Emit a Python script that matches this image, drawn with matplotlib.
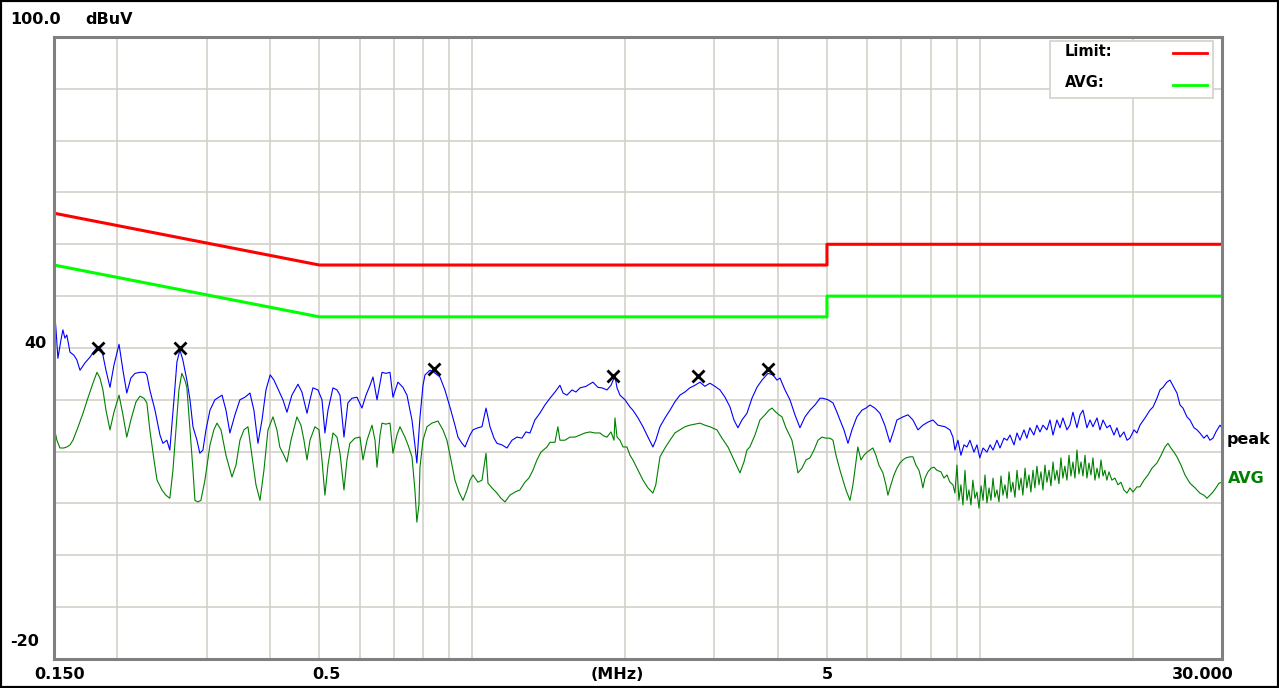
import matplotlib.pyplot as plt
from matplotlib.patches import Rectangle

# limit lines, dBuV
limit_freq = [0.15, 0.5, 5.0, 5.0, 30.0]
limit_qp = [66, 56, 56, 60, 60]
limit_avg = [56, 46, 46, 50, 50]

# peak detector sweep (MHz, dBuV)
peak_freq = [
    0.150, 0.1514, 0.1527, 0.1548, 0.1562, 0.1576, 0.159, 0.1613, 0.1642, 0.1664,
    0.1688, 0.1726, 0.1765, 0.1807, 0.1831, 0.1864, 0.1899, 0.1934, 0.1969, 0.2015,
    0.2051, 0.2087, 0.2126, 0.2166, 0.2216, 0.2266, 0.2286, 0.2317, 0.2372, 0.2426,
    0.2459, 0.2503, 0.2537, 0.2585, 0.2620, 0.2656, 0.2691, 0.2741, 0.2780, 0.2818,
    0.2869, 0.2907, 0.2948, 0.2989, 0.3044, 0.3113, 0.3215, 0.3273, 0.3332, 0.3409,
    0.3487, 0.3567, 0.3649, 0.3715, 0.3784, 0.3854, 0.3924, 0.400, 0.4069, 0.4178,
    0.4238, 0.4316, 0.4414, 0.4537, 0.4619, 0.4727, 0.4791, 0.4856, 0.4968, 0.5059,
    0.5127, 0.5199, 0.5318, 0.5416, 0.549, 0.559, 0.569, 0.5797, 0.5929, 0.6065,
    0.6178, 0.6292, 0.6376, 0.6494, 0.6642, 0.676, 0.6887, 0.6981, 0.714, 0.7304,
    0.7439, 0.761, 0.7712, 0.778, 0.7891, 0.800, 0.8073, 0.8255, 0.8407, 0.8639,
    0.8836, 0.9041, 0.9248, 0.9376, 0.9547, 0.968, 0.990, 1.0036, 1.0264, 1.0454,
    1.0648, 1.0842, 1.104, 1.1191, 1.1445, 1.1708, 1.1978, 1.2252, 1.2531, 1.2759,
    1.300, 1.329, 1.359, 1.391, 1.423, 1.456, 1.489, 1.510, 1.537, 1.573,
    1.601, 1.631, 1.676, 1.729, 1.769, 1.802, 1.843, 1.877, 1.911, 1.929,
    1.955, 2.000, 2.046, 2.073, 2.122, 2.170, 2.220, 2.270, 2.300, 2.344,
    2.398, 2.453, 2.508, 2.566, 2.625, 2.684, 2.747, 2.810, 2.874, 2.940,
    3.008, 3.077, 3.148, 3.221, 3.279, 3.338, 3.400, 3.478, 3.558, 3.639,
    3.723, 3.826, 3.913, 3.985, 4.040, 4.133, 4.227, 4.324, 4.423, 4.525,
    4.629, 4.735, 4.844, 4.909, 5.023, 5.138, 5.232, 5.304, 5.400, 5.500,
    5.600, 5.726, 5.860, 5.967, 6.077, 6.213, 6.357, 6.500, 6.651, 6.776,
    6.866, 7.057, 7.220, 7.385, 7.555, 7.726, 7.906, 8.087, 8.271, 8.539,
    8.734, 8.854, 8.934, 9.058, 9.180, 9.308, 9.436, 9.565, 9.739, 9.873,
    10.00, 10.15, 10.33, 10.48, 10.62, 10.81, 10.96, 11.16, 11.32, 11.47,
    11.68, 11.84, 12.00, 12.22, 12.38, 12.55, 12.78, 12.96, 13.14, 13.32,
    13.56, 13.75, 13.94, 14.19, 14.39, 14.58, 14.85, 15.05, 15.26, 15.54,
    15.76, 15.97, 16.26, 16.49, 16.71, 17.02, 17.25, 17.49, 17.80, 18.05,
    18.38, 18.63, 18.89, 19.23, 19.50, 19.76, 20.13, 20.40, 20.68, 21.16,
    21.64, 21.94, 22.34, 22.65, 22.96, 23.37, 23.70, 24.00, 24.46, 24.80,
    25.14, 25.60, 25.95, 26.43, 26.79, 27.14, 27.64, 28.03, 28.41, 28.80,
    29.19, 29.73, 30.00]
peak_level = [
    48.3, 43.5, 38.0, 41.5, 43.5, 41.9, 42.5, 39.2, 38.6, 37.7,
    35.7, 37.1, 38.2, 39.6, 40.2, 39.6, 35.7, 32.4, 36.7, 40.7,
    35.7, 31.3, 34.2, 35.1, 35.3, 35.3, 34.8, 31.9, 28.0, 23.2,
    21.6, 22.2, 20.3, 30.0, 37.3, 39.6, 37.7, 33.8, 30.0, 24.8,
    22.2, 19.7, 20.3, 24.2, 28.0, 30.0, 30.9, 28.0, 23.6, 27.1,
    30.0, 30.5, 31.3, 28.0, 21.6, 26.1, 31.9, 34.8, 33.8, 31.3,
    30.0, 27.6, 30.9, 33.0, 31.5, 27.4, 30.0, 32.3, 31.9, 30.0,
    23.6, 28.0, 32.3, 31.9, 30.9, 22.8, 29.4, 30.3, 30.5, 28.4,
    30.9, 32.8, 34.4, 30.0, 35.3, 35.1, 35.3, 30.5, 33.4, 32.4,
    30.9, 26.1, 21.3, 17.8, 26.6, 32.8, 34.8, 35.7, 35.3, 34.4,
    31.9, 28.6, 25.1, 22.8, 21.6, 20.9, 23.2, 24.2, 24.6, 24.8,
    28.4, 24.8, 22.6, 21.6, 21.3, 20.7, 22.2, 22.8, 22.6, 23.8,
    23.6, 26.1, 27.4, 29.0, 30.3, 31.5, 32.8, 31.3, 30.9, 31.9,
    31.5, 32.3, 32.6, 33.4, 32.4, 32.3, 31.9, 32.8, 34.6, 32.3,
    30.9, 30.0, 28.6, 28.0, 26.5, 24.8, 22.8, 20.9, 22.2, 24.8,
    26.5, 28.0, 29.6, 30.9, 31.5, 32.3, 32.8, 33.4, 32.6, 33.2,
    32.6, 31.9, 30.5, 28.6, 26.1, 24.6, 26.1, 27.4, 30.3, 32.4,
    33.8, 35.1, 34.8, 33.8, 34.2, 31.9, 30.0, 27.1, 24.6, 26.7,
    28.0, 29.0, 30.3, 30.3, 30.0, 29.4, 27.6, 26.1, 24.2, 21.6,
    24.2, 26.7, 28.0, 28.4, 29.0, 28.4, 27.4, 25.1, 21.8, 24.2,
    26.1, 26.7, 27.1, 26.1, 24.2, 25.1, 25.7, 26.1, 25.1, 24.8,
    24.2, 22.8, 20.3, 22.2, 19.3, 21.3, 20.9, 22.2, 19.9, 21.3,
    18.8, 20.7, 19.9, 21.3, 20.3, 22.2, 20.7, 22.6, 22.2, 23.2,
    21.3, 23.6, 22.2, 24.2, 22.6, 24.6, 23.2, 25.1, 23.8, 25.1,
    24.2, 26.1, 23.2, 26.1, 24.6, 26.5, 24.2, 25.1, 27.6, 24.6,
    27.1, 28.0, 24.6, 26.1, 24.8, 26.5, 24.2, 26.1, 24.6, 25.1,
    23.2, 24.6, 22.8, 23.8, 22.2, 22.6, 24.2, 23.6, 25.1, 26.5,
    28.0, 28.6, 30.3, 31.9, 32.4, 33.4, 33.8, 32.8, 31.3, 29.0,
    28.4, 26.7, 26.1, 24.6, 24.2, 23.6, 22.6, 23.2, 22.2, 22.6,
    23.8, 25.1, 24.6]

# average detector sweep (MHz, dBuV)
avg_freq = [
    0.150, 0.152, 0.1541, 0.1569, 0.159, 0.1613, 0.1635, 0.1671, 0.1711, 0.1749,
    0.179, 0.1823, 0.1848, 0.1873, 0.1899, 0.1934, 0.1969, 0.2015, 0.2051, 0.2087,
    0.2126, 0.2176, 0.2216, 0.2256, 0.2286, 0.2317, 0.2361, 0.2394, 0.2448, 0.2492,
    0.2537, 0.2573, 0.2608, 0.2644, 0.2679, 0.2716, 0.2741, 0.2780, 0.2818, 0.2843,
    0.2881, 0.2921, 0.2975, 0.3044, 0.3098, 0.3142, 0.3200, 0.3273, 0.3363, 0.3425,
    0.3487, 0.3551, 0.3616, 0.3682, 0.3750, 0.3819, 0.3888, 0.3960, 0.4051, 0.4124,
    0.4178, 0.4257, 0.4316, 0.4395, 0.4516, 0.4599, 0.4662, 0.4727, 0.4791, 0.4900,
    0.4991, 0.5059, 0.5127, 0.5199, 0.5318, 0.5416, 0.549, 0.559, 0.5666, 0.574,
    0.5876, 0.6011, 0.6093, 0.6206, 0.6348, 0.6435, 0.6494, 0.6583, 0.6642, 0.676,
    0.6887, 0.6981, 0.7108, 0.7207, 0.7371, 0.7473, 0.761, 0.7712, 0.778, 0.7854,
    0.7891, 0.800, 0.8146, 0.833, 0.8562, 0.8756, 0.8918, 0.9082, 0.9248, 0.9419,
    0.9591, 0.9766, 0.990, 1.0036, 1.0264, 1.0454, 1.0648, 1.0743, 1.094, 1.1191,
    1.1394, 1.1603, 1.1869, 1.2142, 1.2417, 1.2701, 1.2935, 1.3172, 1.3415, 1.366,
    1.4038, 1.423, 1.456, 1.475, 1.489, 1.523, 1.558, 1.594, 1.631, 1.668, 1.706,
    1.744, 1.785, 1.818, 1.843, 1.877, 1.903, 1.911, 1.929, 1.955, 1.982,
    2.018, 2.046, 2.073, 2.122, 2.170, 2.220, 2.270, 2.300, 2.323, 2.344,
    2.398, 2.453, 2.508, 2.566, 2.625, 2.684, 2.747, 2.810, 2.874, 2.940,
    3.035, 3.105, 3.191, 3.279, 3.369, 3.431, 3.478, 3.524, 3.607, 3.689,
    3.774, 3.843, 3.896, 3.967, 4.022, 4.077, 4.151, 4.265, 4.324, 4.383,
    4.463, 4.545, 4.629, 4.714, 4.800, 4.888, 4.977, 5.068, 5.138, 5.209,
    5.304, 5.376, 5.450, 5.550, 5.625, 5.675, 5.751, 5.833, 5.913, 5.995,
    6.077, 6.158, 6.243, 6.328, 6.444, 6.533, 6.592, 6.682, 6.776, 6.866,
    6.962, 7.057, 7.153, 7.285, 7.385, 7.486, 7.589, 7.658, 7.726, 7.799,
    7.906, 8.015, 8.124, 8.234, 8.384, 8.500, 8.616, 8.734, 8.854, 8.934,
    9.016, 9.098, 9.180, 9.266, 9.350, 9.436, 9.521, 9.608, 9.691, 9.784,
    9.873, 9.964, 10.06, 10.15, 10.24, 10.33, 10.43, 10.52, 10.62, 10.71,
    10.81, 10.91, 11.01, 11.11, 11.21, 11.32, 11.42, 11.52, 11.62, 11.73,
    11.84, 11.95, 12.06, 12.16, 12.28, 12.38, 12.50, 12.61, 12.73, 12.84,
    12.96, 13.08, 13.20, 13.32, 13.44, 13.56, 13.69, 13.81, 13.94, 14.06,
    14.19, 14.32, 14.45, 14.58, 14.71, 14.85, 14.99, 15.12, 15.26, 15.40,
    15.54, 15.68, 15.83, 15.97, 16.12, 16.26, 16.41, 16.56, 16.71, 16.86,
    17.02, 17.18, 17.33, 17.49, 17.64, 17.80, 17.97, 18.21, 18.46, 18.72,
    18.97, 19.23, 19.50, 19.76, 20.04, 20.40, 20.68, 21.06, 21.45, 21.84,
    22.34, 22.76, 23.17, 23.48, 23.80, 24.13, 24.46, 24.91, 25.37, 25.95,
    26.55, 27.14, 27.64, 28.03, 28.41, 28.80, 29.19, 29.59, 30.00]
avg_level = [
    24.8, 22.2, 20.7, 20.7, 20.9, 21.3, 22.2, 24.6, 27.4, 30.3,
    33.2, 35.3, 34.2, 31.9, 28.0, 24.2, 27.6, 30.9, 27.1, 22.8,
    26.1, 29.6, 30.7, 30.3, 29.4, 24.2, 18.4, 14.5, 12.6, 11.6,
    11.0, 16.4, 24.2, 31.9, 35.1, 33.8, 32.4, 24.2, 16.4, 10.6,
    10.3, 10.6, 14.5, 21.3, 24.2, 25.5, 24.2, 19.3, 15.1, 17.4,
    22.2, 24.2, 24.8, 19.3, 13.6, 10.6, 16.4, 24.2, 26.7, 24.2,
    20.9, 19.3, 18.0, 22.2, 26.7, 25.1, 22.2, 18.4, 22.2, 24.8,
    24.2, 18.4, 11.6, 17.4, 23.6, 22.8, 19.7, 12.6, 18.4, 21.6,
    22.6, 22.8, 18.4, 22.2, 25.1, 22.2, 17.0, 23.2, 25.5, 25.3,
    25.5, 19.7, 23.2, 24.8, 22.8, 21.3, 19.0, 12.6, 6.4, 9.7,
    17.0, 22.2, 24.8, 25.5, 25.9, 24.2, 22.2, 18.4, 14.5, 12.2,
    10.6, 12.6, 14.5, 15.5, 14.1, 14.5, 19.7, 13.9, 13.0, 12.0,
    11.0, 10.3, 11.6, 12.2, 12.6, 14.1, 14.9, 16.4, 18.4, 19.9,
    20.9, 21.8, 21.8, 24.8, 22.2, 22.2, 22.8, 22.8, 23.2, 23.6, 23.8,
    23.6, 23.6, 23.0, 22.8, 23.8, 22.2, 26.5, 22.8, 22.2, 20.9,
    20.9, 19.3, 18.4, 16.4, 14.5, 13.0, 12.0, 13.6, 16.4, 19.0,
    20.7, 22.2, 23.6, 24.2, 24.8, 25.1, 25.3, 25.5, 25.1, 24.8,
    24.2, 22.6, 20.9, 18.4, 15.9, 18.0, 20.3, 20.9, 23.2, 26.1,
    27.1, 28.0, 28.4, 27.6, 27.1, 26.7, 24.6, 22.2, 19.3, 15.9,
    16.8, 18.4, 18.8, 20.3, 22.2, 22.8, 22.6, 22.6, 22.2, 19.3,
    16.4, 14.5, 12.6, 10.6, 13.6, 16.4, 20.9, 18.4, 19.3, 19.9,
    20.3, 20.7, 19.3, 17.4, 15.9, 13.6, 11.6, 13.6, 15.5, 16.8,
    17.8, 18.4, 18.8, 19.0, 19.0, 17.4, 16.4, 14.9, 13.0, 14.9,
    16.1, 16.8, 17.0, 16.4, 16.1, 14.9, 15.5, 14.1, 13.6, 12.0,
    17.4, 10.6, 13.6, 9.7, 16.4, 10.6, 12.6, 9.7, 14.5, 11.0,
    12.2, 9.1, 13.4, 10.6, 15.5, 10.1, 13.0, 10.6, 14.9, 11.2,
    12.6, 10.3, 15.3, 11.6, 13.6, 11.0, 16.1, 12.2, 14.1, 11.2,
    16.4, 12.6, 14.9, 11.6, 16.8, 13.0, 15.5, 12.2, 16.4, 13.0,
    17.2, 13.6, 16.1, 12.6, 17.4, 14.1, 16.4, 13.4, 18.0, 14.5,
    16.4, 13.8, 18.8, 14.9, 17.2, 14.5, 19.3, 15.3, 18.0, 14.9,
    20.3, 15.7, 18.0, 15.3, 19.3, 14.9, 17.8, 15.5, 18.8, 14.5,
    16.8, 14.9, 18.4, 15.3, 16.4, 14.5, 16.1, 14.5, 14.9, 13.6,
    14.1, 12.6, 12.0, 13.0, 12.2, 13.2, 13.2, 14.5, 15.5, 16.8,
    17.8, 19.3, 20.9, 21.6, 20.7, 19.9, 19.0, 17.4, 15.5, 13.9,
    13.0, 12.0, 11.6, 11.0, 11.6, 12.2, 13.0, 13.9, 14.1]

# marked peaks
marker_freq = [0.1831, 0.2656, 0.841, 1.897, 2.781, 3.83]
marker_level = [40.0, 40.0, 35.9, 34.6, 34.6, 35.9]

grid_freq = [0.2, 0.3, 0.4, 0.5, 0.6, 0.7, 0.8, 0.9,
             1, 2, 3, 4, 5, 6, 7, 8, 9, 10, 20]
grid_level = list(range(-10, 100, 10))

plt.rcParams['font.family'] = 'DejaVu Sans'
font = dict(fontsize=11.5, fontweight='bold')

fig = plt.figure(figsize=(12.79, 6.88), dpi=100)
ax = fig.add_axes([0.0422, 0.0422, 0.9132, 0.9041])

ax.set_xscale('log')
ax.set_xlim(0.15, 30)
ax.set_ylim(-20, 100)
ax.set_xticks(grid_freq)
ax.xaxis.set_minor_locator(plt.NullLocator())
ax.set_yticks(grid_level)
ax.tick_params(which='both', length=0, labelbottom=False, labelleft=False)
ax.grid(True, color='#d4d0c8', lw=1.2)
ax.set_axisbelow(True)
for sp in ax.spines.values():
    sp.set_color('#808080')
    sp.set_linewidth(2.2)

ax.plot(limit_freq, limit_qp, color='#ff0000', lw=2.2)
ax.plot(limit_freq, limit_avg, color='#00ff00', lw=2.2)
ax.plot(peak_freq, peak_level, color='#0000ff', lw=0.8)
ax.plot(avg_freq, avg_level, color='#008000', lw=0.8)
ax.plot(marker_freq, marker_level, 'x', color='black', ms=9, mew=2)

# legend box in the top right corner
ax.add_patch(Rectangle((0.8527, 0.902), 0.1396, 0.0916, transform=ax.transAxes,
                       facecolor='white', edgecolor='#d4d0c8', lw=1.2, zorder=5))
ax.text(0.8656, 0.9759, 'Limit:', transform=ax.transAxes, va='center',
        fontsize=10.5, fontweight='bold', zorder=6)
ax.text(0.8656, 0.926, 'AVG:', transform=ax.transAxes, va='center',
        fontsize=10.5, fontweight='bold', zorder=6)
ax.plot([0.958, 0.9872], [0.9743, 0.9743], transform=ax.transAxes,
        color='#ff0000', lw=2, zorder=6)
ax.plot([0.958, 0.9872], [0.9228, 0.9228], transform=ax.transAxes,
        color='#00ff00', lw=2, zorder=6)

# axis labels
fig.text(0.0078, 0.971, '100.0', va='center', **font)
fig.text(0.0665, 0.971, 'dBuV', va='center', **font)
ax.annotate('40', xy=(0, 40), xycoords=('axes fraction', 'data'),
            xytext=(-5, 3), textcoords='offset points', ha='right', va='center', **font)
fig.text(0.0078, 0.0669, '-20', va='center', **font)
fig.text(0.0469, 0.0189, '0.150', ha='center', va='center', **font)
fig.text(0.2549, 0.0189, '0.5', ha='center', va='center', **font)
fig.text(0.4824, 0.0189, '(MHz)', ha='center', va='center', **font)
fig.text(0.6466, 0.0189, '5', ha='center', va='center', **font)
fig.text(0.9406, 0.0189, '30.000', ha='center', va='center', **font)
fig.text(0.9593, 0.3619, 'peak', va='center', color='black', **font)
fig.text(0.9601, 0.3038, 'AVG', va='center', color='#008000', **font)

fig.patches.append(Rectangle((0, 0), 1, 1, transform=fig.transFigure,
                             fill=False, edgecolor='black', lw=3))

fig.savefig('out.png', dpi=100)
